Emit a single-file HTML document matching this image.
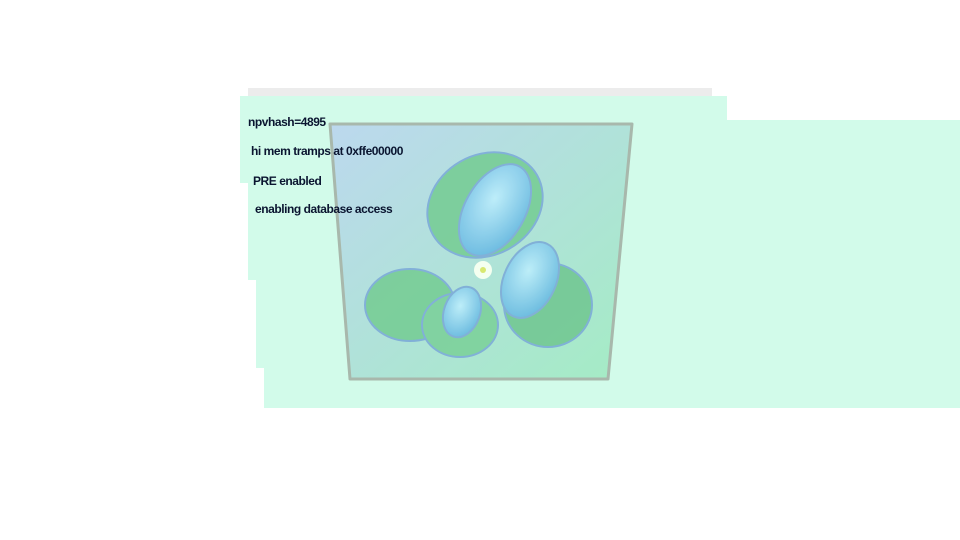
<!DOCTYPE html>
<html><head><meta charset="utf-8"><style>
html,body{margin:0;padding:0;background:#fff;width:960px;height:540px;overflow:hidden;position:relative;font-family:"Liberation Sans",sans-serif}
.t{position:absolute;font-size:12px;font-weight:bold;color:#0a1530;white-space:nowrap;letter-spacing:-0.45px}
</style></head><body>
<svg width="960" height="540" style="position:absolute;left:0;top:0">
<defs>
<linearGradient id="g" x1="0" y1="0" x2="1" y2="1"><stop offset="0" stop-color="#bcd8ee"/><stop offset="1" stop-color="#a4ecc4"/></linearGradient>
<radialGradient id="d" cx="0.4" cy="0.4" r="0.7"><stop offset="0" stop-color="#c0f0ff"/><stop offset="1" stop-color="#5ab0e0"/></radialGradient>
</defs>
<rect x="248" y="88" width="464" height="8" fill="#ececec"/>
<polygon fill="#d2fbea" points="240,96 727,96 727,120 960,120 960,408 264,408 264,368 256,368 256,280 248,280 248,183 240,183"/>
<polygon points="330,124 632,124 608,379 350,379" fill="url(#g)" stroke="#a8b8ac" stroke-width="3" stroke-linejoin="round"/>
<g stroke="#7aa8d8" stroke-width="2" opacity="0.85">
<ellipse cx="485" cy="205" rx="60" ry="50" fill="#74cc92" transform="rotate(-30 485 205)"/>
<ellipse cx="410" cy="305" rx="45" ry="36" fill="#74cc92"/>
<ellipse cx="460" cy="325" rx="38" ry="32" fill="#7ad098"/>
<ellipse cx="548" cy="305" rx="44" ry="42" fill="#70c690"/>
<ellipse cx="495" cy="210" rx="30" ry="50" fill="url(#d)" transform="rotate(30 495 210)"/>
<ellipse cx="530" cy="280" rx="26" ry="40" fill="url(#d)" transform="rotate(25 530 280)"/>
<ellipse cx="462" cy="312" rx="18" ry="26" fill="url(#d)" transform="rotate(20 462 312)"/>
</g>
<circle cx="483" cy="270" r="9" fill="#f4fff0"/>
<circle cx="483" cy="270" r="3" fill="#d8e870"/>
</svg>
<div class="t" style="left:248px;top:115px">npvhash=4895</div>
<div class="t" style="left:251px;top:144px">hi mem tramps at 0xffe00000</div>
<div class="t" style="left:253px;top:174px">PRE enabled</div>
<div class="t" style="left:255px;top:202px">enabling database access</div>
</body></html>
